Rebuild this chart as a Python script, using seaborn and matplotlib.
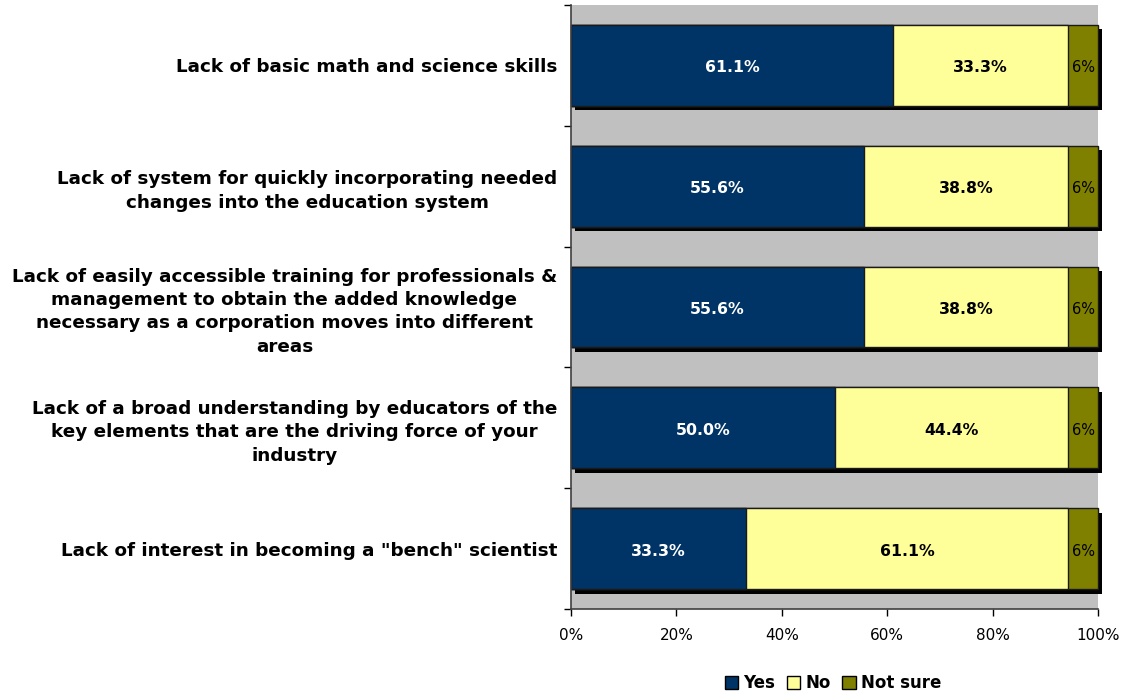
import matplotlib
matplotlib.use("Agg")
import matplotlib.pyplot as plt
import matplotlib.patheffects as pe
from matplotlib.patches import Patch
import numpy as np
import pandas as pd
import seaborn as sns

categories = [
    "Lack of basic math and science skills",
    "Lack of system for quickly incorporating needed\nchanges into the education system",
    "Lack of easily accessible training for professionals &\nmanagement to obtain the added knowledge\nnecessary as a corporation moves into different\nareas",
    "Lack of a broad understanding by educators of the\nkey elements that are the driving force of your\nindustry",
    "Lack of interest in becoming a \"bench\" scientist",
]
yes = [61.1, 55.6, 55.6, 50.0, 33.3]
no = [33.3, 38.8, 38.8, 44.4, 61.1]
not_sure = [5.6, 5.6, 5.6, 5.6, 5.6]
series_names = ["Yes", "No", "Not sure"]
colors = ["#003366", "#FFFF99", "#808000"]
label_colors = ["white", "black", "black"]
xticks = [0, 20, 40, 60, 80, 100]

sns.set_theme(style="white")
plt.rcParams["font.family"] = ["DejaVu Sans"]
plt.rcParams["text.color"] = "black"
plt.rcParams["xtick.color"] = "black"
plt.rcParams["ytick.color"] = "black"

df = pd.DataFrame({"category": categories, "Yes": yes, "No": no, "Not sure": not_sure})
df["cum_yes"] = df["Yes"]
df["cum_no"] = df["Yes"] + df["No"]
df["cum_ns"] = df["Yes"] + df["No"] + df["Not sure"]

fig = plt.figure(figsize=(11.23, 6.96), dpi=100)
ax = fig.add_axes([571 / 1123, 1 - 609 / 696, (1098 - 571) / 1123, (609 - 5) / 696])
ax.set_facecolor("#C0C0C0")

bar_w = 0.67
# stacked bars drawn back-to-front as cumulative totals
for col, c in zip(["cum_ns", "cum_no", "cum_yes"], colors[::-1]):
    sns.barplot(data=df, x=col, y="category", orient="h", color=c, width=bar_w,
                edgecolor="#1a1a1a", linewidth=1.0, saturation=1, ax=ax)

# drop shadow behind the full-length bars
n = len(categories)
for p in ax.patches[:n]:
    p.set_clip_on(False)
    p.set_path_effects([pe.SimplePatchShadow(offset=(2.6, -3.2), shadow_rgbFace="black", alpha=1.0),
                        pe.Normal()])

# value labels centred in each segment
for i in range(n):
    starts = [0, yes[i], yes[i] + no[i]]
    vals = [yes[i], no[i], not_sure[i]]
    for k, (s, v, lc) in enumerate(zip(starts, vals, label_colors)):
        txt = f"{v:.1f}%" if v >= 10 else f"{v:.0f}%"
        ax.text(s + v / 2, i + 0.02, txt, ha="center", va="center", color=lc,
                fontsize=11.3 if k < 2 else 10.5, fontweight="bold" if k < 2 else "normal")

ax.set_xlim(0, 100)
ax.set_ylim(n - 0.5, -0.5)
ax.set_xticks(xticks)
ax.set_xticklabels([f"{t}%" for t in xticks], fontsize=11)
ax.set_xlabel("")
ax.set_ylabel("")
ax.set_yticks(range(n))
ax.set_yticklabels(categories, fontsize=13.2, fontweight="bold", multialignment="center",
                   linespacing=1.38)
ax.set_yticks(np.arange(-0.5, n, 1.0), minor=True)
ax.tick_params(axis="y", which="major", length=0, pad=10)
ax.tick_params(axis="y", which="minor", length=5, width=1, color="black", direction="out", left=True)
ax.tick_params(axis="x", which="major", length=5, width=1, color="black", direction="out", bottom=True, pad=9)

for side in ["top", "right"]:
    ax.spines[side].set_visible(False)
for side in ["left", "bottom"]:
    ax.spines[side].set_visible(True)
    ax.spines[side].set_color("#404040")
    ax.spines[side].set_linewidth(1.2)

handles = [Patch(facecolor=c, edgecolor="black", linewidth=1.0) for c in colors]
fig.legend(handles, series_names, loc="center", bbox_to_anchor=(833 / 1123, 1 - 683 / 696),
           ncol=3, frameon=False, handlelength=0.8, handleheight=0.8, handletextpad=0.3,
           columnspacing=0.7, prop={"size": 12, "weight": "bold"})

fig.savefig("out.png", dpi=100, facecolor="white")
